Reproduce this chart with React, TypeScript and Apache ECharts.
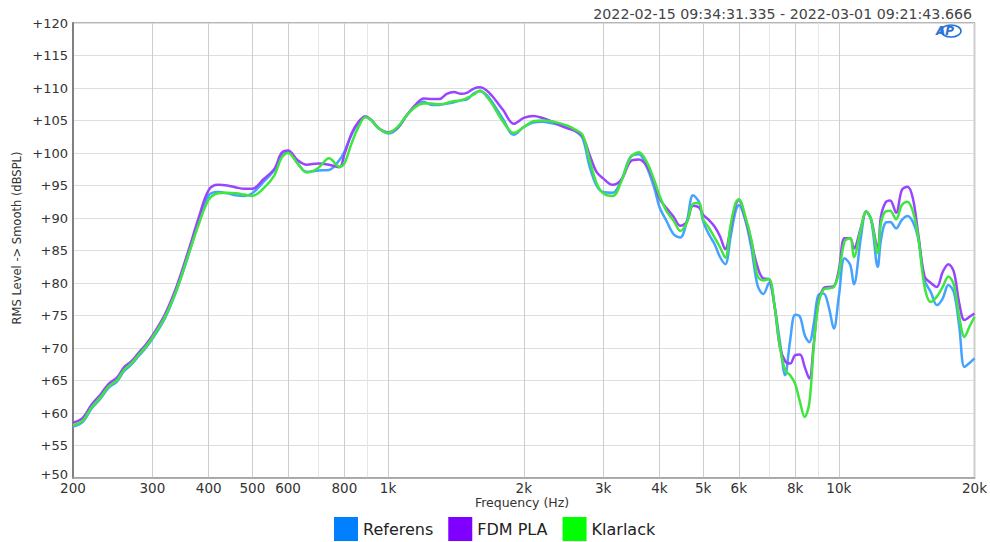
import React, { useEffect, useRef } from "react";
import * as echarts from "echarts";

const frequencies = [
  200, 210, 220, 230, 240, 250, 260, 270, 280, 290,
  300, 320, 340, 360, 380, 400, 420, 440, 460, 480,
  500, 530, 560, 580, 600, 630, 660, 700, 740, 780,
  800, 830, 860, 890, 920, 950, 1000, 1050, 1100, 1150,
  1200, 1250, 1300, 1350, 1400, 1450, 1500, 1550, 1600, 1650,
  1700, 1800, 1900, 2000, 2100, 2200, 2300, 2400, 2500, 2600,
  2700, 2800, 2900, 3000, 3150, 3300, 3450, 3600, 3750, 3900,
  4000, 4150, 4300, 4450, 4600, 4750, 4900, 5000, 5150, 5300,
  5450, 5600, 5750, 5900, 6000, 6200, 6400, 6600, 6800, 7000,
  7200, 7400, 7600, 7800, 8000, 8200, 8400, 8600, 8800, 9000,
  9250, 9500, 9750, 10000, 10300, 10600, 10800, 11200, 11500, 11800,
  12200, 12400, 12700, 13000, 13400, 13800, 14200, 14600, 15000, 15500,
  16000, 16500, 17000, 17500, 18000, 18500, 19000, 19500, 20000,
];

const referens = [
  57.9, 58.6, 60.7, 62.2, 63.9, 64.8, 66.5, 67.5, 68.8, 70.0,
  71.4, 74.6, 79.0, 84.1, 89.3, 93.5, 94.0, 93.8, 93.5, 93.4,
  93.8, 95.6, 97.4, 99.6, 100.2, 98.4, 97.1, 97.3, 97.4, 98.9,
  100.2, 102.8, 104.6, 105.6, 105.0, 103.9, 103.0, 103.8, 105.8, 107.2,
  107.9, 107.4, 107.4, 107.6, 107.8, 108.1, 108.3, 109.2, 109.5, 109.0,
  107.9, 105.2, 102.8, 104.0, 104.7, 104.8, 104.6, 104.3, 103.9, 103.4,
  102.3, 97.9, 95.0, 94.0, 93.9, 96.0, 99.4, 99.8, 97.8, 94.5,
  91.7, 89.5, 87.5, 87.0, 89.5, 93.5, 92.4, 89.5, 87.5, 86.0,
  84.0, 82.9, 87.0, 91.0, 92.0, 89.7, 85.3, 79.7, 78.3, 80.0,
  76.5, 71.0, 65.8, 71.2, 75.1, 74.8, 72.0, 70.9, 73.8, 78.1,
  78.4, 76.3, 73.0, 77.9, 83.8, 82.8, 79.8, 87.1, 91.0, 89.7,
  82.5, 86.6, 89.3, 89.4, 88.4, 89.7, 90.3, 89.4, 86.9, 80.4,
  78.6, 76.6, 77.6, 79.7, 78.6, 73.3, 67.1, 67.7, 68.4,
];

const fdmPla = [
  58.5, 59.2, 61.3, 62.8, 64.5, 65.4, 67.1, 68.0, 69.3, 70.5,
  71.9, 75.2, 79.6, 84.8, 90.0, 94.3, 95.1, 95.0, 94.7, 94.5,
  94.5, 96.0, 97.6, 100.0, 100.4, 98.9, 98.2, 98.4, 98.2, 97.8,
  99.8, 103.0, 104.8, 105.6, 105.0, 103.9, 103.2, 103.9, 105.8, 107.4,
  108.4, 108.3, 108.3, 109.1, 109.4, 109.1, 109.3, 109.9, 110.1, 109.7,
  108.8, 106.6, 104.5, 105.4, 105.7, 105.4, 104.9, 104.3, 103.8, 103.4,
  102.6, 99.7, 97.1, 96.1, 95.1, 96.0, 98.7, 99.0, 98.0, 95.5,
  93.0, 91.5, 90.2, 88.8, 89.4, 91.9, 91.6, 90.5, 89.7, 88.7,
  87.2, 85.2, 88.3, 92.0, 92.8, 90.0, 86.3, 82.5, 80.7, 80.6,
  76.5, 70.2, 68.0, 67.6, 68.9, 69.0, 67.1, 65.3, 70.7, 76.9,
  79.2, 79.4, 79.5, 82.0, 86.9, 86.9, 85.3, 88.6, 91.0, 89.7,
  85.3, 90.2, 92.4, 92.7, 90.8, 94.3, 94.8, 93.0, 87.6, 81.0,
  80.0, 79.4, 81.7, 82.9, 81.7, 76.9, 74.3, 74.8, 75.3,
];

const klarlack = [
  58.1, 58.8, 60.9, 62.4, 64.1, 65.0, 66.7, 67.7, 69.0, 70.2,
  71.6, 74.8, 79.1, 84.2, 89.0, 92.8, 93.8, 93.9, 93.8, 93.6,
  93.4, 94.6, 96.6, 99.2, 100.0, 98.4, 97.0, 97.7, 99.2, 97.9,
  98.4, 101.5, 104.0, 105.5, 105.0, 103.9, 103.1, 104.0, 105.8, 107.1,
  107.6, 107.6, 107.5, 107.7, 108.0, 108.1, 108.5, 109.0, 109.6, 108.8,
  107.6, 104.8, 103.1, 104.0, 104.9, 105.0, 104.9, 104.6, 104.2, 103.6,
  102.8, 98.9, 95.4, 93.8, 93.4, 95.8, 99.3, 100.1, 98.6, 95.7,
  93.5, 91.0, 89.6, 88.0, 89.3, 92.2, 92.3, 89.8, 88.5, 87.0,
  85.5, 83.9, 88.8, 92.3, 92.9, 90.3, 86.6, 81.1, 80.4, 80.6,
  76.5, 70.2, 66.6, 65.8, 64.5, 61.7, 59.4, 61.5, 70.2, 76.6,
  79.0, 79.2, 79.4, 81.5, 86.4, 86.9, 84.0, 88.4, 91.0, 89.7,
  84.6, 89.2, 91.0, 91.1, 89.8, 92.0, 92.5, 91.0, 87.1, 79.4,
  77.1, 77.9, 79.4, 81.0, 79.7, 74.8, 71.7, 73.3, 74.8,
];

const majorTicks = [200, 300, 400, 500, 600, 800, 1000, 2000, 3000, 4000, 5000, 6000, 8000, 10000, 20000];
const minorTicks = [700, 900, 7000, 9000];
const seriesNames = ["Referens", "FDM PLA", "Klarlack"];
const lineColors = ["#45a2ff", "#9a44ff", "#3fe63f"];
const legendColors = ["#0080ff", "#8000ff", "#00ff00"];
const timestamp = "2022-02-15 09:34:31.335 - 2022-03-01 09:21:43.666";
const yTitle = "RMS Level -> Smooth (dBSPL)";
const xTitle = "Frequency (Hz)";

const FONT = "DejaVu Sans";

function fmtFreq(v: number) {
  const r = Math.round(v);
  return r >= 1000 ? r / 1000 + "k" : String(r);
}

export default function App() {
  const ref = useRef<HTMLDivElement>(null);
  useEffect(() => {
    document.body.style.margin = "0";
    const chart = echarts.init(ref.current!, undefined, { renderer: "svg" });
    const values = [referens, fdmPla, klarlack];
    chart.setOption({
      animation: false,
      backgroundColor: "#ffffff",
      grid: {
        left: 73,
        right: 15,
        top: 23,
        bottom: 64,
        show: true,
        borderColor: "#a0a0a0",
        borderWidth: 1.5,
      },
      xAxis: [
        {
          type: "log",
          logBase: 10,
          min: 199.999,
          max: 20000.02,
          position: "bottom",
          axisLine: { show: true, lineStyle: { color: "#a0a0a0", width: 1.5 } },
          axisTick: { show: false, customValues: majorTicks },
          axisLabel: {
            customValues: majorTicks,
            formatter: (v: number) => fmtFreq(v),
            color: "#333",
            fontSize: 13.5,
            lineHeight: 12,
            fontFamily: FONT,
            margin: 4,
          },
          splitLine: { show: true, lineStyle: { color: "#cdcdcd", width: 1 } },
        },
        {
          type: "log",
          logBase: 10,
          min: 199.999,
          max: 20000.02,
          position: "bottom",
          axisLine: { show: false },
          axisTick: { show: false, customValues: minorTicks },
          axisLabel: { show: false },
          splitLine: { show: true, lineStyle: { color: "#e6e6e6", width: 1 } },
        },
      ],
      yAxis: {
        type: "value",
        min: 50,
        max: 120,
        interval: 5,
        axisLine: { show: true, lineStyle: { color: "#808080", width: 2 } },
        axisTick: { show: false },
        axisLabel: {
          formatter: (v: number) => (v === 50 ? "{low|+50}" : "+" + v),
          color: "#333",
          fontSize: 13,
          lineHeight: 10,
          fontFamily: FONT,
          margin: 5,
          rich: {
            low: {
              fontSize: 13,
              lineHeight: 10,
              fontFamily: FONT,
              color: "#333",
              padding: [0, 0, 7, 0],
            },
          },
        },
        splitLine: { show: true, lineStyle: { color: "#dedede", width: 1 } },
      },
      legend: {
        data: seriesNames.map((n, i) => ({ name: n, itemStyle: { color: legendColors[i] } })),
        left: 329,
        top: 512,
        icon: "rect",
        itemWidth: 24,
        itemHeight: 24,
        itemGap: 15,
        textStyle: { fontSize: 16, color: "#222", fontFamily: FONT },
      },
      graphic: [
        {
          type: "text",
          x: 972,
          y: 14,
          style: {
            text: timestamp,
            align: "right",
            verticalAlign: "middle",
            fontSize: 14.2,
            fontFamily: FONT,
            fill: "#444",
          },
        },
        {
          type: "text",
          x: 17,
          y: 238,
          rotation: Math.PI / 2,
          style: {
            text: yTitle,
            align: "center",
            verticalAlign: "middle",
            fontSize: 11.5,
            fontFamily: FONT,
            fill: "#333",
          },
        },
        {
          type: "text",
          x: 522,
          y: 502.5,
          style: {
            text: xTitle,
            align: "center",
            verticalAlign: "middle",
            fontSize: 12.5,
            lineHeight: 11,
            fontFamily: FONT,
            fill: "#333",
          },
        },
        {
          type: "ellipse",
          shape: { cx: 951, cy: 31, rx: 10, ry: 6 },
          style: { fill: "none", stroke: "#2b74d6", lineWidth: 1.6 },
        },
        {
          type: "text",
          x: 945,
          y: 31,
          style: {
            text: "AP",
            align: "center",
            verticalAlign: "middle",
            fontSize: 12,
            fontStyle: "italic",
            fontWeight: "bold",
            fontFamily: FONT,
            fill: "#2b74d6",
          },
        },
      ],
      series: seriesNames.map((name, s) => ({
        name,
        type: "line",
        xAxisIndex: 0,
        showSymbol: false,
        smooth: 0.35,
        color: lineColors[s],
        lineStyle: { width: 2.5, color: lineColors[s] },
        data: frequencies.map((f, i) => [f, values[s][i]]),
      })),
    });
    return () => chart.dispose();
  }, []);
  return <div ref={ref} style={{ width: 990, height: 542 }} />;
}
